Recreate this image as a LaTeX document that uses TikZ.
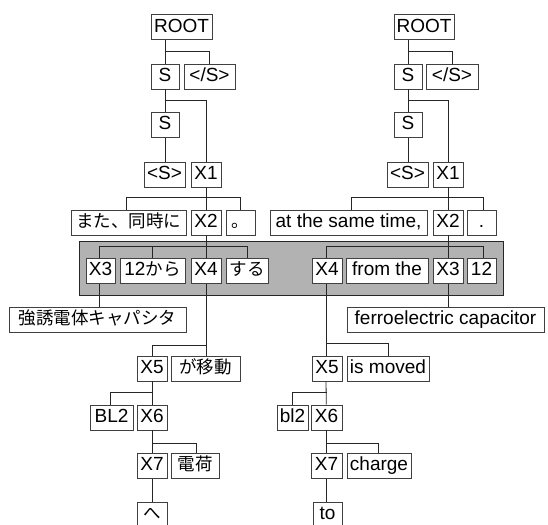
\documentclass[tikz,border=0pt]{standalone}
\usepackage{fontspec}
\setmainfont{Liberation Sans}
\newfontfamily\jpfont{Noto Sans CJK JP}

\tikzset{
  lbl/.style={draw=black!75, fill=white, line width=0.7pt, minimum height=25pt,
    inner sep=0pt, text height=13.5pt, text depth=4pt, font=\fontsize{19}{21}\selectfont},
  jlbl/.style={lbl, font=\jpfont\fontsize{17.5}{21}\selectfont},
  link/.style={draw=black!85, line width=0.8pt},
}

\begin{document}
\begin{tikzpicture}[x=1pt, y=-1pt]
\useasboundingbox (0,0) rectangle (548,524);
\filldraw[fill=black!30, draw=black!85, line width=0.8pt] (79,241) rectangle (503,295);

% left tree
\node[lbl, minimum width=61pt, line width=1pt] (rootL) at (181.5,27.5) {ROOT};
\node[lbl, minimum width=28pt] (sL) at (165,76.5) {S};
\node[lbl, minimum width=51pt] (esL) at (209.5,76.5) {</S>};
\node[lbl, minimum width=28pt] (s2L) at (165,125) {S};
\node[lbl, minimum width=41pt] (bsL) at (164.5,174.5) {<S>};
\node[lbl, minimum width=30pt] (x1L) at (206,174.5) {X1};
\node[jlbl, minimum width=115pt] (mataL) at (128.5,222.5) {また、同時に};
\node[lbl, minimum width=30pt] (x2L) at (206,222.5) {X2};
\node[jlbl, minimum width=29pt] (kutenL) at (240.5,222.5) {。};
\node[lbl, minimum width=29pt] (x3L) at (100.5,271) {X3};
\node[lbl, minimum width=65pt] (karaL) at (152.5,271) {12{\jpfont\fontsize{17.5}{21}\selectfont から}};
\node[lbl, minimum width=30pt] (x4L) at (206,271) {X4};
\node[jlbl, minimum width=42pt] (suruL) at (247,271) {する};
\node[jlbl, minimum width=177pt] (kyoL) at (97.5,319.5) {強誘電体キャパシタ};
\node[lbl, minimum width=30pt] (x5L) at (152,368.5) {X5};
\node[jlbl, minimum width=69pt] (idoL) at (205.5,368.5) {が移動};
\node[lbl, minimum width=43pt] (blL) at (111.5,417.5) {BL2};
\node[lbl, minimum width=30pt] (x6L) at (152,417.5) {X6};
\node[lbl, minimum width=30pt] (x7L) at (152,466) {X7};
\node[jlbl, minimum width=48pt] (denL) at (195,466) {電荷};
\node[jlbl, minimum width=30pt] (heL) at (152,514.5) {へ};

% right tree
\node[lbl, minimum width=60pt, line width=1pt] (rootR) at (424,27.5) {ROOT};
\node[lbl, minimum width=28pt] (sR) at (408,76.5) {S};
\node[lbl, minimum width=52pt] (esR) at (452,76.5) {</S>};
\node[lbl, minimum width=28pt] (s2R) at (408,125) {S};
\node[lbl, minimum width=41pt] (bsR) at (407.5,174.5) {<S>};
\node[lbl, minimum width=30pt] (x1R) at (448,174.5) {X1};
\node[lbl, minimum width=157pt] (atR) at (348.5,222.5) {at the same time,};
\node[lbl, minimum width=30pt] (x2R) at (448,222.5) {X2};
\node[lbl, minimum width=29pt] (dotR) at (481.5,222.5) {.};
\node[lbl, minimum width=30pt] (x4R) at (327,271) {X4};
\node[lbl, minimum width=82pt] (fromR) at (387,271) {from the};
\node[lbl, minimum width=30pt] (x3R) at (448,271) {X3};
\node[lbl, minimum width=29pt] (twelveR) at (481.5,271) {12};
\node[lbl, minimum width=197pt] (ferroR) at (445.5,319.5) {ferroelectric capacitor};
\node[lbl, minimum width=30pt] (x5R) at (327,368.5) {X5};
\node[lbl, minimum width=82pt] (movedR) at (388,368.5) {is moved};
\node[lbl, minimum width=31pt] (blR) at (292.5,417.5) {bl2};
\node[lbl, minimum width=31pt] (x6R) at (326.5,417.5) {X6};
\node[lbl, minimum width=31pt] (x7R) at (326.5,466) {X7};
\node[lbl, minimum width=64pt] (chargeR) at (379,466) {charge};
\node[lbl, minimum width=29pt] (toR) at (327.5,514.5) {to};

% left links
\draw[link] (sL.north |- rootL.south) -- (sL.north);
\draw[link] (sL.north) ++(0,-12) -| (esL.north);
\draw[link] (sL) -- (s2L);
\draw[link] (s2L.north) ++(0,-12) -| (x1L.north);
\draw[link] (s2L) -- (s2L |- bsL.north);
\draw[link] (x1L) -- (x2L);
\draw[link] (mataL.north) ++(-2.5,0) -- ++(0,-12.5) -| (kutenL.north);
\draw[link] (x2L) -- (x4L);
\draw[link] (x3L.north) ++(-1.5,0) -- ++(0,-11.5) -| (suruL.north);
\draw[link] (karaL.north) -- ++(0,-11.5);
\draw[link] (x3L.south) ++(-1.5,0) -- ++(0,23);
\draw[link] (x4L) -- (x4L |- idoL.north);
\draw[link] (x5L.north) -- ++(0,-10.5) -| (x4L.south |- idoL.north);
\draw[link] (x5L) -- (x6L);
\draw[link] (x6L.north) ++(0,-12) -| ([xshift=-1.5pt]blL.north);
\draw[link] (x6L) -- (x7L);
\draw[link] (x7L.north) ++(0,-10) -| ([xshift=1pt]denL.north);
\draw[link] (x7L) -- (heL);

% right links
\draw[link] (sR.north |- rootR.south) -- (sR.north);
\draw[link] (sR.north) ++(0,-12) -| (esR.north);
\draw[link] (sR) -- (s2R);
\draw[link] (s2R.north) ++(0,-12) -| (x1R.north);
\draw[link] (s2R) -- (s2R |- bsR.north);
\draw[link] (x1R) -- (x2R);
\draw[link] (atR.north) ++(2.5,0) -- ++(0,-12.5) -| ([xshift=1.5pt]dotR.north);
\draw[link] (x2R) -- (x3R);
\draw[link] (x4R.north) ++(-1,0) -- ++(0,-11.5) -| ([xshift=1.5pt]twelveR.north);
\draw[link] (x3R) -- (x3R |- ferroR.north);
\draw[link] ([xshift=-1pt]x4R.south) -- ([xshift=-1pt]x5R.north);
\draw[link] ([xshift=-1pt]x5R.north) ++(0,-12) -| (movedR.north);
\draw[link] ([xshift=-1pt]x5R.south) -- (x6R);
\draw[link] (x6R.north) ++(0,-12) -| (blR.north);
\draw[link] (x6R) -- (x7R);
\draw[link] (x7R.north) ++(0,-10) -| ([xshift=-1pt]chargeR.north);
\draw[link] (x7R) -- (x7R |- toR.north);
\end{tikzpicture}
\end{document}
